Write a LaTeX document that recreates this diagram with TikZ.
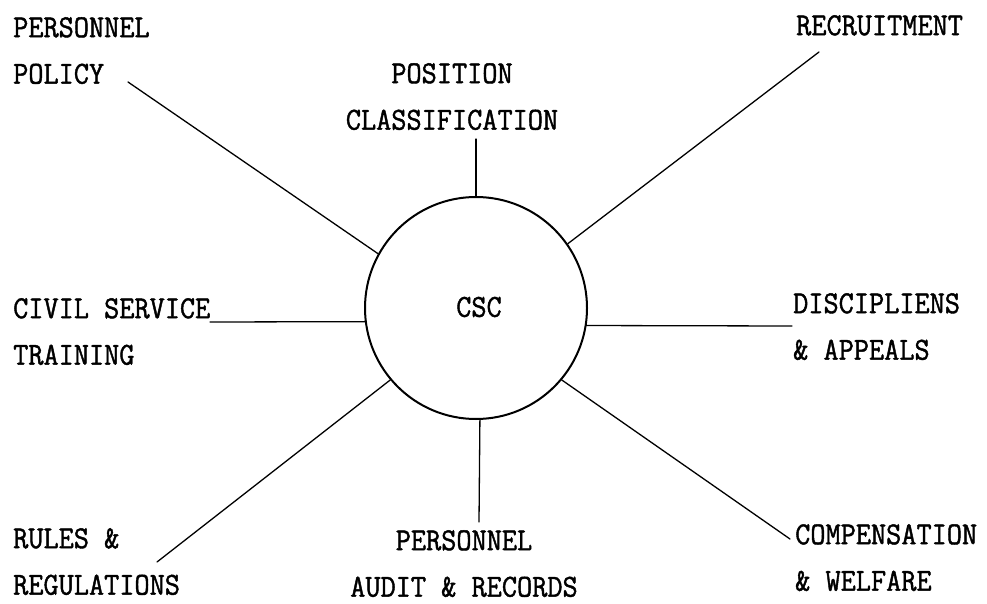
\documentclass[tikz,border=0pt]{standalone}
\usepackage{fontspec}
\newfontfamily\labelfont{Latin Modern Mono}[FakeStretch=0.92,FakeBold=1.3]
\begin{document}
\begin{tikzpicture}[x=1pt,y=-1pt,
  lbl/.style={font=\labelfont\fontsize{32}{46.5}\selectfont, inner sep=0pt, anchor=north west, align=left},
  lblc/.style={lbl, anchor=north, align=center},
  spoke/.style={line width=1.3pt, line cap=round},
  hub/.style={circle, draw, line width=2pt, minimum size=222pt, inner sep=0pt},
  hubtext/.style={font=\labelfont\fontsize{32}{34}\selectfont, inner sep=0pt}]
\useasboundingbox (0,0) rectangle (987,604);
\fill[white] (0,0) rectangle (987,604);

% central circle and its label
\node[hub] (csc) at (476,308) {};
\node[hubtext] (csctext) at (479,307) {CSC};

% labels round the circle
\node[lbl]  (policy)  at (13,17)   {PERSONNEL\\POLICY};
\node[lblc] (posn)    at (452,63)  {POSITION\\CLASSIFICATION};
\node[lbl]  (recr)    at (796,15)  {RECRUITMENT};
\node[lbl]  (train)   at (13,298)  {CIVIL SERVICE\\TRAINING};
\node[lbl]  (disc)    at (793,293) {DISCIPLIENS\\\& APPEALS};
\node[lbl]  (rules)   at (13,528)  {RULES \&\\REGULATIONS};
\node[lblc] (audit)   at (464,530) {PERSONNEL\\AUDIT \& RECORDS};
\node[lbl]  (comp)    at (795,524) {COMPENSATION\\\& WELFARE};

% free ends of the spokes
\coordinate (pPolicy) at (128,82);
\coordinate (pPosn)   at (476,139);
\coordinate (pRecr)   at (819,52);
\coordinate (pTrain)  at (210,322);
\coordinate (pDisc)   at (792,326);
\coordinate (pRules)  at (157,562);
\coordinate (pAudit)  at (479,522);
\coordinate (pComp)   at (790,539);

% spokes
\draw[spoke] (pPolicy) -- (csc.151);
\draw[spoke] (pPosn)   -- (csc.north);
\draw[spoke] (pRecr)   -- (csc.35.5);
\draw[spoke] (pTrain)  -- (csc.187.2);
\draw[spoke] (pDisc)   -- (csc.-9.3);
\draw[spoke] (pRules)  -- (csc.220.6);
\draw[spoke] (pAudit)  -- (csc.272);
\draw[spoke] (pComp)   -- (csc.-40);
\end{tikzpicture}
\end{document}
